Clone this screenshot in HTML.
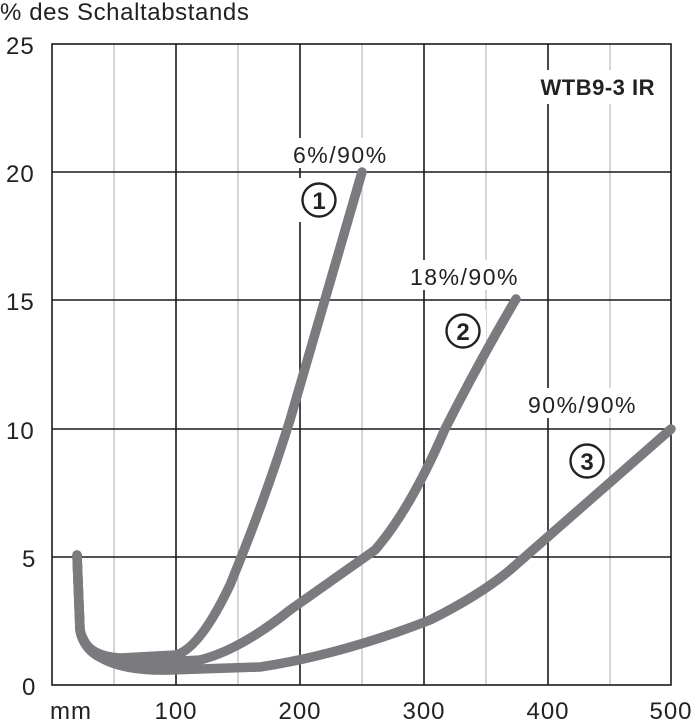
<!DOCTYPE html><html><head><style>body{margin:0;background:#fff}</style></head><body>
<svg width="698" height="720" xmlns="http://www.w3.org/2000/svg" font-family="Liberation Sans, sans-serif">
<rect width="698" height="720" fill="#fff"/>
<g stroke="#bbb" stroke-width="1.2">
<line x1="114" y1="44" x2="114" y2="685"/><line x1="238" y1="44" x2="238" y2="685"/><line x1="362" y1="44" x2="362" y2="685"/><line x1="486" y1="44" x2="486" y2="685"/><line x1="610" y1="44" x2="610" y2="685"/>
</g>
<g stroke="#1a1a1a" stroke-width="1.6" fill="none">
<line x1="176" y1="44" x2="176" y2="685"/><line x1="300" y1="44" x2="300" y2="685"/><line x1="424" y1="44" x2="424" y2="685"/><line x1="548" y1="44" x2="548" y2="685"/>
<line x1="52" y1="172" x2="671" y2="172"/><line x1="52" y1="300" x2="671" y2="300"/><line x1="52" y1="429" x2="671" y2="429"/><line x1="52" y1="557" x2="671" y2="557"/>
<rect x="52" y="44" width="619" height="641"/>
</g>
<rect x="520" y="70" width="145" height="34" fill="#fff"/>
<text x="655" y="95" text-anchor="end" font-size="22" font-weight="bold" fill="#222" letter-spacing="0.5">WTB9-3 IR</text>
<g fill="#fff"><rect x="290" y="138" width="114" height="30"/><rect x="298" y="178" width="44" height="44"/><rect x="406" y="260" width="132" height="30"/><rect x="442" y="310" width="44" height="44"/><rect x="524" y="388" width="136" height="30"/><rect x="564" y="440" width="44" height="44"/></g>
<g font-size="23" fill="#222" letter-spacing="1.5">
<text x="293" y="163">6%/90%</text>
<text x="410" y="285">18%/90%</text>
<text x="528" y="413">90%/90%</text>
</g>
<g fill="none" stroke="#222" stroke-width="2.4">
<circle cx="319" cy="200" r="16.5"/><circle cx="463" cy="331" r="16.5"/><circle cx="587" cy="461" r="16.5"/>
</g>
<g font-size="24" font-weight="bold" fill="#222" text-anchor="middle">
<text x="319" y="209">1</text><text x="463" y="340">2</text><text x="587" y="470">3</text>
</g>
<g fill="none" stroke="#7b7b7f" stroke-width="9.5" stroke-linecap="round" stroke-linejoin="round">
<path d="M77,555 L80,630 Q84,656 120,658 L176,655 Q200,648 230,585 Q265,500 290,420 Q325,300 362,172"/>
<path d="M77,555 L80,630 Q86,662 130,664 L200,660 Q240,650 290,610 L375,550 Q410,510 445,429 Q480,360 516,299"/>
<path d="M77,555 L80,630 Q90,672 170,670 L260,667 Q340,655 430,620 Q480,595 510,570 L671,429"/>
</g>
<g font-size="24" fill="#222" letter-spacing="1">
<text x="0" y="20" letter-spacing="0.6">% des Schaltabstands</text>
<text x="6" y="54">25</text><text x="6" y="182">20</text><text x="6" y="310">15</text><text x="6" y="439">10</text><text x="22" y="567">5</text><text x="22" y="695">0</text>
<text x="50" y="719">mm</text>
<text x="176" y="719" text-anchor="middle">100</text><text x="300" y="719" text-anchor="middle">200</text><text x="424" y="719" text-anchor="middle">300</text><text x="548" y="719" text-anchor="middle">400</text><text x="671" y="719" text-anchor="middle">500</text>
</g>
</svg>
</body></html>
